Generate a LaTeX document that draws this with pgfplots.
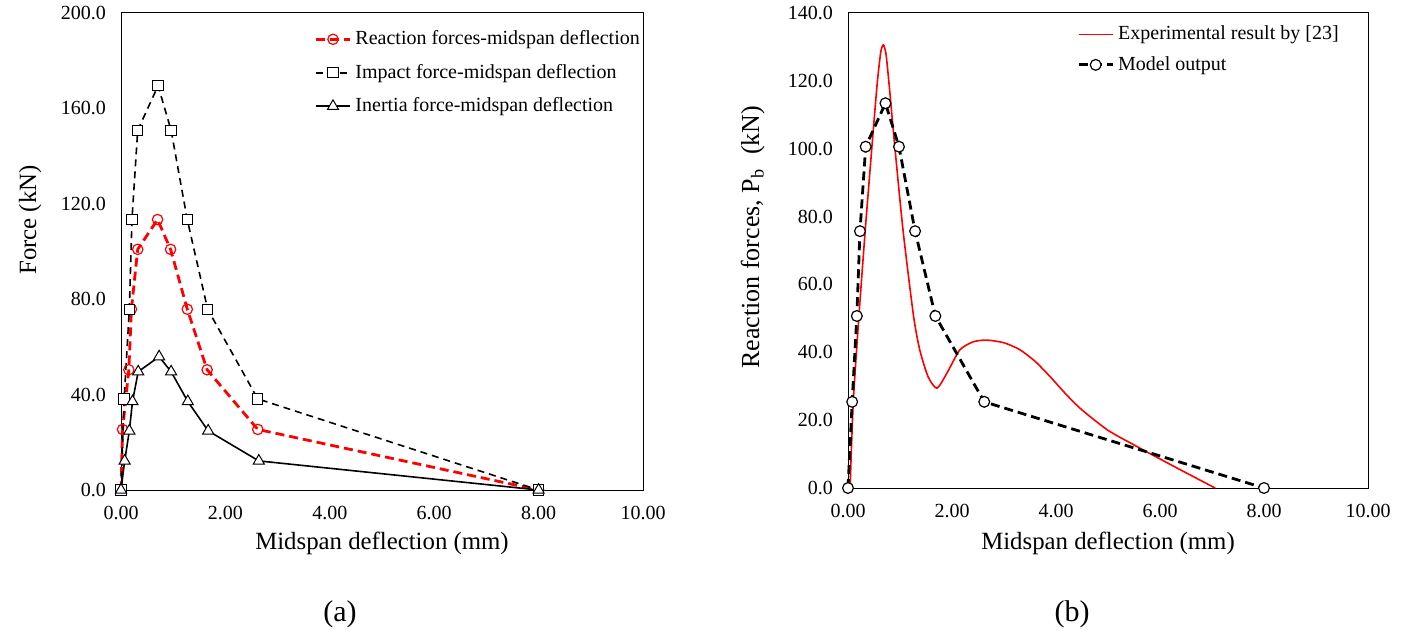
\documentclass[border=0pt]{standalone}
\usepackage{fontspec}
\setmainfont{Liberation Serif}
\usepackage{pgfplots}
\pgfplotsset{compat=1.18}

\pgfplotstableread{
x y
0 0
0.03 25.4
0.15 50.4
0.20 75.8
0.32 100.9
0.70 113.4
0.95 100.9
1.27 75.8
1.65 50.4
2.62 25.4
8.0 0
}\reaction
\pgfplotstableread{
x y
0 0
0.06 38.2
0.16 75.8
0.21 113.3
0.32 150.8
0.71 169.5
0.96 150.8
1.27 113.3
1.66 75.8
2.62 38.2
8.0 0
}\impact
\pgfplotstableread{
x y
0 0
0.07 12.2
0.16 24.8
0.22 37.1
0.33 49.6
0.73 55.9
0.96 49.6
1.28 37.1
1.67 24.8
2.64 12.2
8.0 0
}\inertia
\pgfplotstableread{
x y
0 0
0.08 25.4
0.17 50.7
0.23 75.7
0.34 100.6
0.72 113.4
0.98 100.6
1.29 75.7
1.68 50.7
2.62 25.4
8.0 0
}\model
\pgfplotstableread{
x y
0.04 0
0.10 25
0.21 50.7
0.33 75.7
0.46 100.6
0.56 119
0.63 128.5
0.68 130.6
0.73 128
0.79 119
0.90 100.6
1.06 75.7
1.26 50.7
1.38 40.7
1.54 32.8
1.71 29.4
1.90 33.8
2.15 40.7
2.41 43.1
2.67 43.6
3.00 42.8
3.30 40.8
3.60 37.3
3.90 32.6
4.20 27.5
4.50 23.0
5.00 17.0
5.50 12.7
5.80 10.2
6.40 5.3
7.06 0
}\experiment

\pgfplotsset{
  commonaxis/.style={
    scale only axis,
    axis line style={black, line width=0.5pt},
    major tick length=0pt,
    tick style={draw=none},
    xmin=0, xmax=10,
    xtick={0,2,4,6,8,10},
    ymin=0,
    clip=false,
    /pgf/number format/assume math mode=true,
    ticklabel style={font=\fontsize{10}{12}\selectfont},
    xticklabel style={/pgf/number format/fixed, /pgf/number format/fixed zerofill, /pgf/number format/precision=2, yshift=-4.5pt},
    yticklabel style={/pgf/number format/fixed, /pgf/number format/fixed zerofill, /pgf/number format/precision=1, xshift=-4pt},
    xlabel={Midspan deflection (mm)},
    legend cell align=left,
    legend style={draw=none, fill=none, font=\fontsize{10}{12}\selectfont, inner sep=0pt, anchor=north west},
  }
}

\begin{document}
\begin{tikzpicture}
\path[use as bounding box] (0,0) rectangle (703pt,-315pt);

\begin{axis}[commonaxis,
  at={(60.5pt,-245pt)}, anchor=south west,
  width=261pt, height=238.5pt,
  ymax=200, ytick={0,40,80,120,160,200},
  ylabel={Force (kN)},
  every axis y label/.style={at={(axis description cs:-0.174,0.566)}, anchor=center, rotate=90, font=\fontsize{12.4}{14}\selectfont},
  every axis x label/.style={at={(axis description cs:0.5,-0.111)}, anchor=center, font=\fontsize{12.4}{14}\selectfont},
  legend style={at={(axis description cs:0.37,0.972)}, row sep=4.2pt},
]
\addplot[red, line width=1.4pt, dash pattern=on 4.5pt off 2.5pt, mark=o, mark size=2.6pt, mark options={solid, line width=0.6pt, fill=white, draw=red}] table {\reaction};
\addlegendentry{Reaction forces-midspan deflection}
\addplot[black, line width=0.8pt, dash pattern=on 3.5pt off 2.5pt, mark=square*, mark size=2.6pt, mark options={solid, line width=0.5pt, fill=white, draw=black}] table {\impact};
\addlegendentry{Impact force-midspan deflection}
\addplot[black, line width=0.8pt, mark=triangle*, mark size=3.2pt, mark options={solid, line width=0.5pt, fill=white, draw=black}] table {\inertia};
\addlegendentry{Inertia force-midspan deflection}
\end{axis}

\begin{axis}[commonaxis,
  at={(424pt,-244pt)}, anchor=south west,
  width=260pt, height=237.5pt,
  ymax=140, ytick={0,20,40,60,80,100,120,140},
  ylabel={Reaction forces, P\textsubscript{b}\hspace{7pt}(kN)},
  every axis y label/.style={at={(axis description cs:-0.183,0.528)}, anchor=center, rotate=90, font=\fontsize{13}{15}\selectfont},
  every axis x label/.style={at={(axis description cs:0.5,-0.116)}, anchor=center, font=\fontsize{12.4}{14}\selectfont},
  legend style={at={(axis description cs:0.44,0.982)}, row sep=2.8pt},
]
\addplot[red, line width=0.8pt, smooth, tension=0.4] table {\experiment};
\addlegendentry{Experimental result by [23]}
\addplot[black, line width=1.4pt, dash pattern=on 4.5pt off 2.5pt, mark=*, mark size=2.7pt, mark options={solid, line width=0.6pt, fill=white, draw=black}] table {\model};
\addlegendentry{Model output}
\end{axis}

\node[font=\fontsize{15}{17}\selectfont] at (170pt,-307pt) {(a)};
\node[font=\fontsize{15}{17}\selectfont] at (536pt,-307pt) {(b)};
\end{tikzpicture}
\end{document}
